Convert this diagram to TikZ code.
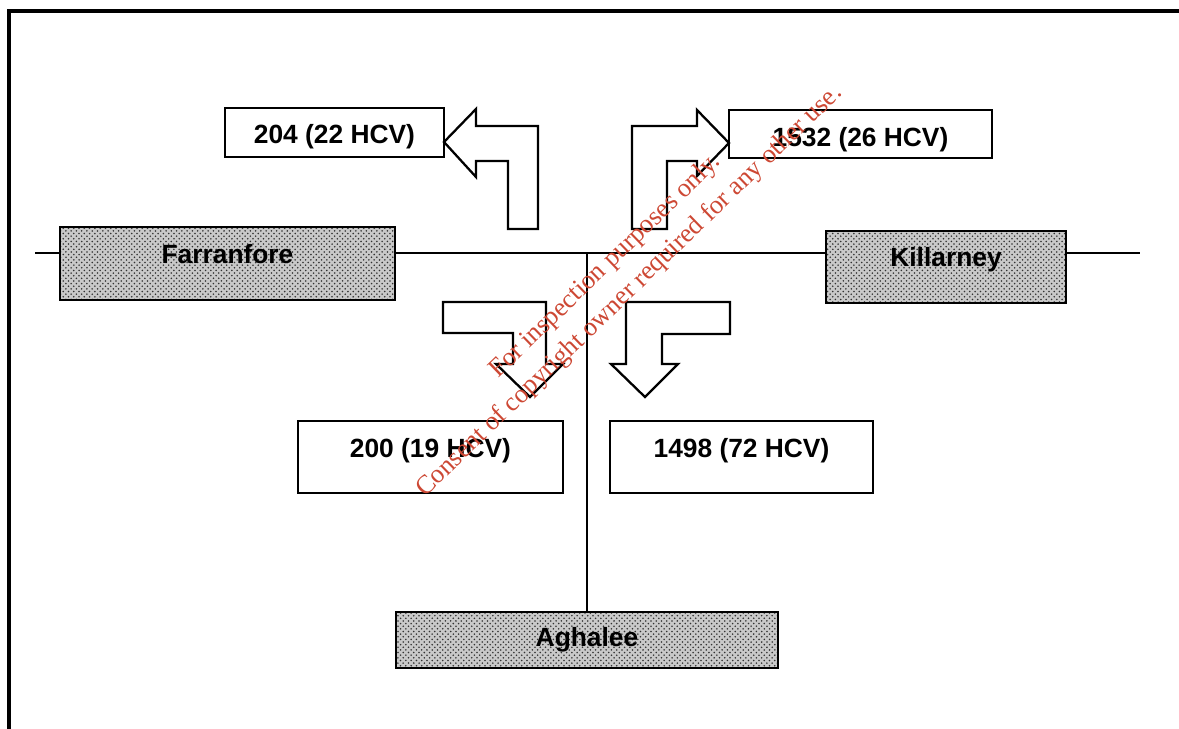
\documentclass[tikz,border=0pt]{standalone}
\usepackage{fontspec}
\setmainfont{Liberation Sans}
\newfontfamily\stampfont{Liberation Serif}
\usetikzlibrary{patterns,positioning}
\definecolor{stampred}{RGB}{205,72,52}
\tikzset{
    townbox/.style={draw, line width=1.3pt, inner sep=0pt, align=center,
        font=\fontsize{15}{18}\selectfont\bfseries,
        preaction={fill=gray!42}, pattern=crosshatch dots, pattern color=black!80},
    countbox/.style={draw, line width=1.3pt, inner sep=0pt, fill=white, align=center,
        font=\fontsize{15}{18}\selectfont\bfseries},
    bendarrow/.style={draw, line width=1.3pt, fill=white, line join=miter},
    roadline/.style={line width=1.1pt},
    stamptext/.style={text=stampred, font=\stampfont\fontsize{15}{17}\selectfont, rotate=44, anchor=base}
}

\begin{document}
\begin{tikzpicture}[x=0.02cm, y=-0.02cm]
\useasboundingbox (0,0) rectangle (1179,729);
% frame
\draw[line width=2pt] (9,729) -- (9,11) -- (1179,11);

% junction points of the road
\coordinate (westend) at (35,253);
\coordinate (junction) at (587,253);
\coordinate (eastend) at (1140,253);

% towns
\node[townbox, minimum width=6.7cm, text height=0.73cm, text depth=0.73cm] (farranfore) at (227.5,263.5) {Farranfore};
\node[townbox, minimum width=4.8cm, text height=0.72cm, text depth=0.72cm] (killarney) at (946,267) {Killarney};
\node[townbox, minimum width=7.64cm, minimum height=1.12cm] (aghalee) at (587,640) {Aghalee};

% roads
\draw[roadline] (westend) -- (westend -| farranfore.west);
\draw[roadline] (farranfore.east |- junction) -- (killarney.west |- junction);
\draw[roadline] (killarney.east |- eastend) -- (eastend);
\draw[roadline] (junction) -- (aghalee.north);

% traffic counts
\node[countbox, minimum width=4.38cm, text height=0.71cm, text depth=0.27cm] (toFarranfore) at (334.5,132.5) {204 (22 HCV)};
\node[countbox, minimum width=5.26cm, text height=0.73cm, text depth=0.23cm] (toKillarney) at (860.5,134) {1532 (26 HCV)};
\node[countbox, minimum width=5.3cm, text height=0.72cm, text depth=0.72cm] (fromFarranfore) at (430.5,457) {200 (19 HCV)};
\node[countbox, minimum width=5.26cm, text height=0.72cm, text depth=0.72cm] (fromKillarney) at (741.5,457) {1498 (72 HCV)};

% turning arrows
\draw[bendarrow] (444,142) -- (476,109) -- (476,126) -- (538,126) -- (538,229)
    -- (508,229) -- (508,161) -- (476,161) -- (476,177) -- cycle;
\draw[bendarrow] (729,143) -- (697,110) -- (697,126) -- (632,126) -- (632,229)
    -- (667,229) -- (667,161) -- (697,161) -- (697,176) -- cycle;
\draw[bendarrow] (443,302) -- (546,302) -- (546,364) -- (563,364) -- (530,397)
    -- (496,364) -- (513,364) -- (513,333) -- (443,333) -- cycle;
\draw[bendarrow] (730,302) -- (626,302) -- (626,364) -- (611,364) -- (645,397)
    -- (678,364) -- (662,364) -- (662,334) -- (730,334) -- cycle;

% stamp
\node[stamptext] (stampone) at (610,271) {For inspection purposes only.};
\node[stamptext] (stamptwo) at (634,296) {Consent of copyright owner required for any other use.};
\end{tikzpicture}
\end{document}
